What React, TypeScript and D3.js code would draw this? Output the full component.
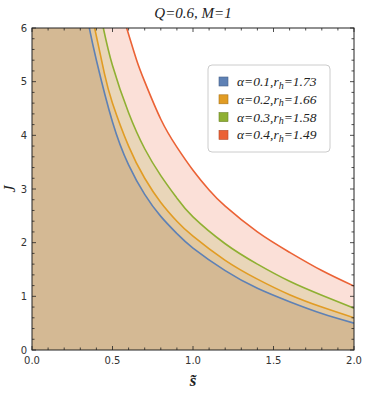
import { useEffect, useRef } from 'react'
import * as d3 from 'd3'

const W = 379, H = 394
const M = { left: 32, right: 25, top: 28, bottom: 44 }

// curve readings (s, J) off the picture
const BLUE = [[0.356, 6.0], [0.4, 5.4], [0.5, 4.25], [0.6, 3.45], [0.7, 2.9], [0.8, 2.49], [0.9, 2.17], [1.0, 1.9], [1.2, 1.48], [1.4, 1.15], [1.6, 0.9], [1.8, 0.68], [2.0, 0.5]]
const ORANGE = [[0.389, 6.0], [0.45, 5.15], [0.5, 4.6], [0.6, 3.8], [0.7, 3.2], [0.8, 2.75], [0.9, 2.4], [1.0, 2.12], [1.2, 1.67], [1.4, 1.32], [1.6, 1.03], [1.8, 0.8], [2.0, 0.6]]
const GREEN = [[0.443, 6.0], [0.5, 5.3], [0.6, 4.42], [0.7, 3.75], [0.8, 3.25], [0.9, 2.83], [1.0, 2.48], [1.2, 1.98], [1.4, 1.6], [1.6, 1.28], [1.8, 1.02], [2.0, 0.78]]
const RED = [[0.588, 6.0], [0.65, 5.4], [0.7, 5.0], [0.8, 4.3], [0.9, 3.78], [1.0, 3.35], [1.1, 2.98], [1.2, 2.68], [1.4, 2.2], [1.6, 1.82], [1.8, 1.48], [2.0, 1.19]]

const ALPHAS = ['0.1', '0.2', '0.3', '0.4']
const RH = ['1.73', '1.66', '1.58', '1.49']
const LINE_COLORS = ['#5E81B5', '#E19C24', '#8FB032', '#EB6235']
const FILL_COLORS = ['#D4B994', '#E3C9A0', '#E9D6B9', '#FBE0D8']
const X_TICKS = [0, 0.5, 1, 1.5, 2]
const Y_TICKS = [0, 1, 2, 3, 4, 5, 6]

export default function App() {
  const ref = useRef<SVGSVGElement>(null)

  useEffect(() => {
    const svg = d3.select(ref.current)
    svg.selectAll('*').remove()
    const x = d3.scaleLinear([0, 2], [M.left, W - M.right])
    const y = d3.scaleLinear([0, 6], [H - M.bottom, M.top])
    const series = [BLUE, ORANGE, GREEN, RED]

    svg.append('defs').append('clipPath').attr('id', 'plot')
      .append('rect').attr('x', x(0)).attr('y', y(6))
      .attr('width', x(2) - x(0)).attr('height', y(0) - y(6))

    const line = d3.line<number[]>().x(d => x(d[0])).y(d => y(d[1])).curve(d3.curveNatural)
    const g = svg.append('g').attr('clip-path', 'url(#plot)')

    // fills, largest first
    for (let i = 3; i >= 0; i--) {
      const ls = line(series[i]) as string
      const d = `M${x(0)},${y(6)}L` + ls.slice(1) + `L${x(2)},${y(0)}L${x(0)},${y(0)}Z`
      g.append('path').attr('d', d).attr('fill', FILL_COLORS[i])
    }
    for (let i = 3; i >= 0; i--) {
      g.append('path').attr('d', line(series[i])).attr('fill', 'none')
        .attr('stroke', LINE_COLORS[i]).attr('stroke-width', 1.6)
    }

    // frame + ticks
    const axisCol = '#222'
    svg.append('rect').attr('x', x(0)).attr('y', y(6))
      .attr('width', x(2) - x(0)).attr('height', y(0) - y(6))
      .attr('fill', 'none').attr('stroke', axisCol).attr('stroke-width', 1)

    const ticks = svg.append('g').attr('stroke', axisCol).attr('stroke-width', 0.8)
    d3.range(0, 2.0001, 0.1).forEach((v, k) => {
      const len = k % 5 === 0 ? 4 : 2.5
      ticks.append('line').attr('x1', x(v)).attr('x2', x(v)).attr('y1', y(0)).attr('y2', y(0) - len)
      ticks.append('line').attr('x1', x(v)).attr('x2', x(v)).attr('y1', y(6)).attr('y2', y(6) + len)
    })
    d3.range(0, 6.0001, 0.2).forEach((v, k) => {
      const len = k % 5 === 0 ? 4 : 2.5
      ticks.append('line').attr('y1', y(v)).attr('y2', y(v)).attr('x1', x(0)).attr('x2', x(0) + len)
      ticks.append('line').attr('y1', y(v)).attr('y2', y(v)).attr('x1', x(2)).attr('x2', x(2) - len)
    })

    const tickFont = 'DejaVu Sans, sans-serif'
    svg.append('g').selectAll('text').data(X_TICKS).join('text')
      .attr('x', d => x(d)).attr('y', y(0) + 14).attr('text-anchor', 'middle')
      .attr('font-family', tickFont).attr('font-size', 10).attr('fill', '#333')
      .text(d => d.toFixed(1))
    svg.append('g').selectAll('text').data(Y_TICKS).join('text')
      .attr('x', x(0) - 5).attr('y', d => y(d) + 3.5).attr('text-anchor', 'end')
      .attr('font-family', tickFont).attr('font-size', 10).attr('fill', '#333')
      .text(d => String(d))

    const serif = 'Liberation Serif, serif'
    svg.append('text').attr('x', 193).attr('y', 18).attr('text-anchor', 'middle')
      .attr('font-family', serif).attr('font-style', 'italic').attr('font-size', 15)
      .attr('fill', '#222').text('Q=0.6, M=1')
    svg.append('text').attr('transform', `translate(15,${y(3)}) rotate(-90)`)
      .attr('text-anchor', 'middle').attr('font-family', serif).attr('font-style', 'italic')
      .attr('font-size', 16).attr('fill', '#222').text('J')
    svg.append('text').attr('x', x(1)).attr('y', 386).attr('text-anchor', 'middle')
      .attr('font-family', serif).attr('font-style', 'italic').attr('font-weight', 'bold')
      .attr('font-size', 17).attr('fill', '#222').text('s\u0303')

    // legend
    const lg = svg.append('g')
    lg.append('rect').attr('x', 208).attr('y', 65).attr('width', 122).attr('height', 87)
      .attr('rx', 4).attr('fill', 'white').attr('stroke', '#ccc').attr('stroke-width', 1)
    ALPHAS.forEach((a, i) => {
      const cy = 81.5 + i * 17.8
      lg.append('rect').attr('x', 219).attr('y', cy - 4.5).attr('width', 9).attr('height', 9)
        .attr('fill', LINE_COLORS[i]).attr('stroke', d3.color(LINE_COLORS[i])!.darker(0.8).toString())
        .attr('stroke-width', 0.6)
      const t = lg.append('text').attr('x', 237).attr('y', cy + 4.5)
        .attr('font-family', serif).attr('font-style', 'italic').attr('font-size', 13.5).attr('fill', '#222')
      t.append('tspan').text(`\u03b1=${a},r`)
      t.append('tspan').attr('font-size', 10).attr('dy', 2.5).text('h')
      t.append('tspan').attr('dy', -2.5).text(`=${RH[i]}`)
    })
  }, [])

  return (
    <svg ref={ref} width={W} height={H} viewBox={`0 0 ${W} ${H}`}
      style={{ position: 'absolute', left: 0, top: 0, background: 'white' }} />
  )
}
